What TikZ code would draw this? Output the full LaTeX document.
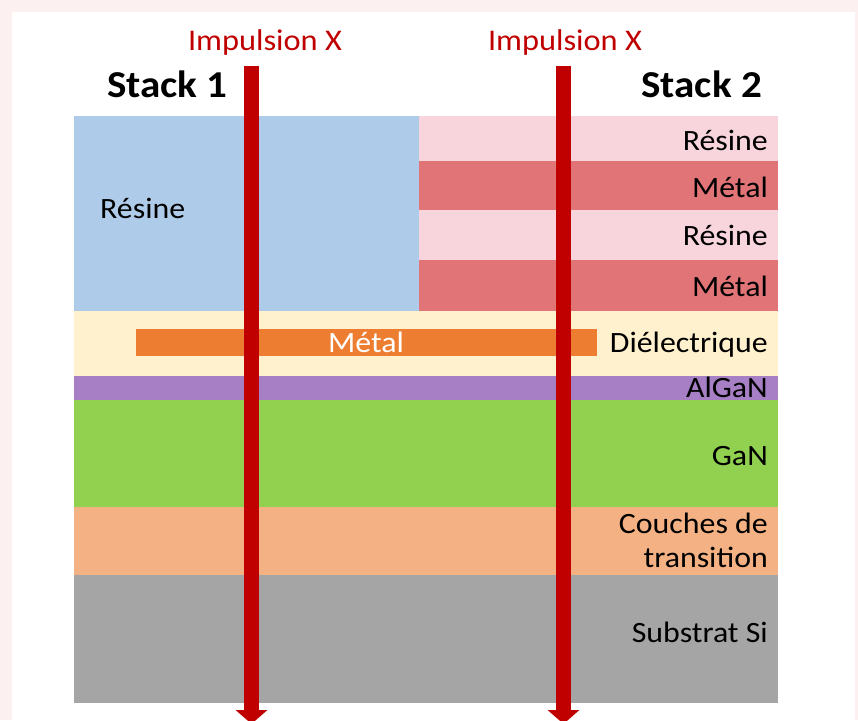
\documentclass[tikz,border=0pt]{standalone}
\usepackage{fontspec}
\setmainfont{Carlito}[FakeStretch=1.08]
\usetikzlibrary{arrows.meta}
\definecolor{bgpink}{HTML}{FCF1F0}
\definecolor{resblue}{HTML}{AECCE9}
\definecolor{respink}{HTML}{F8D5DD}
\definecolor{metred}{HTML}{E07476}
\definecolor{diel}{HTML}{FFF1CD}
\definecolor{metorange}{HTML}{ED7D31}
\definecolor{algan}{HTML}{A77FC4}
\definecolor{gan}{HTML}{92D050}
\definecolor{trans}{HTML}{F4B183}
\definecolor{subsi}{HTML}{A5A5A5}
\definecolor{impred}{HTML}{C00000}
\tikzset{
  layer/.style={draw=none, inner sep=0pt, outer sep=0pt},
  lbl/.style={font=\fontsize{29.5}{34}\selectfont, text=black, inner sep=0pt, anchor=base east},
  ttl/.style={font=\fontsize{38}{44}\selectfont\bfseries, text=black, inner sep=0pt, anchor=base},
  imp/.style={font=\fontsize{30}{34}\selectfont, text=impred, inner sep=0pt, anchor=base},
  beam/.style={draw=impred, line width=15pt, -{Triangle[width=31pt,length=14pt]}}
}
\begin{document}
\begin{tikzpicture}[x=1pt,y=-1pt]
\useasboundingbox (0,0) rectangle (858,720);
\fill[bgpink] (0,0) rectangle (858,720);
\fill[white] (12,12) rectangle (855,722);
% layers
\fill[resblue] (74,116) rectangle (419,311);
\fill[respink] (419,116) rectangle (778,161);
\fill[metred] (419,161) rectangle (778,210);
\fill[respink] (419,210) rectangle (778,260);
\fill[metred] (419,260) rectangle (778,311);
\fill[diel] (74,311) rectangle (778,376);
\fill[metorange] (136,329) rectangle (597,356);
\fill[algan] (74,376) rectangle (778,400);
\fill[gan] (74,400) rectangle (778,507);
\fill[trans] (74,507) rectangle (778,575);
\fill[subsi] (74,575) rectangle (778,703);
% labels
\node[lbl] (r1) at (768,150) {Résine};
\node[lbl] (m1) at (768,197) {Métal};
\node[lbl] (r2) at (768,245) {Résine};
\node[lbl] (m2) at (768,296) {Métal};
\node[lbl] (die) at (768,352) {Diélectrique};
\node[lbl] (alg) at (768,397) {AlGaN};
\node[lbl] (gn) at (768,465) {GaN};
\node[lbl] (ct1) at (768,533) {Couches de};
\node[lbl] (ct2) at (768,567) {transition};
\node[lbl] (si) at (768,642) {Substrat Si};
\node[lbl, anchor=base west] (rl) at (100,218) {Résine};
\node[lbl, anchor=base, text=white] (mb) at (366,352) {Métal};
% titles
\node[ttl, anchor=base west] (s1) at (107,97) {Stack 1};
\node[ttl, anchor=base east] (s2) at (762,97) {Stack 2};
\node[imp] (i1) at (265,50) {Impulsion X};
\node[imp] (i2) at (565,50) {Impulsion X};
% beams
\coordinate (b1s) at (251.5,66);
\coordinate (b1e) at (251.5,724);
\coordinate (b2s) at (563.5,66);
\coordinate (b2e) at (563.5,724);
\draw[beam] (b1s) -- (b1e);
\draw[beam] (b2s) -- (b2e);
\end{tikzpicture}
\end{document}
